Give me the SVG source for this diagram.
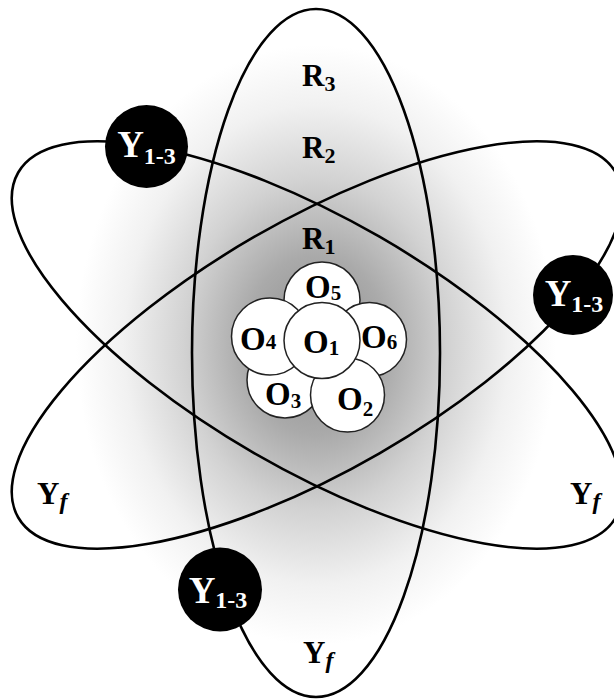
<svg xmlns="http://www.w3.org/2000/svg" width="614" height="699" viewBox="0 0 614 699">
<defs>
<radialGradient id="glow" gradientUnits="userSpaceOnUse" cx="316" cy="345" r="300" gradientTransform="translate(316 345) scale(0.8 1) translate(-316 -345)">
<stop offset="0" stop-color="#8c8c8c"/>
<stop offset="0.3" stop-color="#aaaaaa"/>
<stop offset="0.55" stop-color="#d2d2d2"/>
<stop offset="0.8" stop-color="#f1f1f1"/>
<stop offset="1" stop-color="#ffffff"/>
</radialGradient>
<style>
.orbit{fill:none;stroke:#000;stroke-width:2.6}
.elec{fill:#000}
.nuc{fill:#fff;stroke:#222;stroke-width:1.5}
text{font-family:"Liberation Serif","Times New Roman",serif;font-weight:bold;fill:#000}
.yw{fill:#fff;font-size:37px}
.ys{font-size:24px}
.r{font-size:31px}
.rs{font-size:22px}
.o{font-size:33px}
.os{font-size:21px}
.yf{font-size:31px}
.f{font-size:24px;font-style:italic}
</style>
</defs>
<rect width="614" height="699" fill="url(#glow)"/>
<g id="connectors">
<ellipse class="orbit" cx="316" cy="353" rx="124" ry="344"/>
<ellipse class="orbit" cx="0" cy="0" rx="345" ry="125" transform="translate(317 345) rotate(30)"/>
<ellipse class="orbit" cx="0" cy="0" rx="345" ry="125" transform="translate(317 345) rotate(-30)"/>
</g>
<g id="labels-orbit">
<text class="r" x="302" y="86">R<tspan class="rs" dy="5">3</tspan></text>
<text class="r" x="302" y="158">R<tspan class="rs" dy="5">2</tspan></text>
<text class="r" x="302" y="249">R<tspan class="rs" dy="5">1</tspan></text>
<text class="yf" x="37" y="504">Y<tspan class="f" dy="5">f</tspan></text>
<text class="yf" x="570" y="504">Y<tspan class="f" dy="5">f</tspan></text>
<text class="yf" x="303" y="663">Y<tspan class="f" dy="5">f</tspan></text>
</g>
<g id="electron-1">
<circle class="elec" cx="146.5" cy="146.5" r="41.5"/>
<text class="yw" x="146.5" y="157" text-anchor="middle">Y<tspan class="ys" dy="7">1-3</tspan></text>
</g>
<g id="electron-2">
<circle class="elec" cx="573" cy="295" r="40"/>
<text class="yw" x="574" y="306" text-anchor="middle">Y<tspan class="ys" dy="6">1-3</tspan></text>
</g>
<g id="electron-3">
<circle class="elec" cx="220" cy="589.5" r="42"/>
<text class="yw" x="218" y="603" text-anchor="middle">Y<tspan class="ys" dy="5">1-3</tspan></text>
</g>
<g id="O5">
<circle class="nuc" cx="322" cy="300" r="38"/>
<text class="o" x="305" y="298">O<tspan class="os" dy="2">5</tspan></text>
</g>
<g id="O6">
<circle class="nuc" cx="369.5" cy="339.5" r="37"/>
<text class="o" x="361" y="348">O<tspan class="os" dy="1">6</tspan></text>
</g>
<g id="O3">
<circle class="nuc" cx="285" cy="380" r="38"/>
<text class="o" x="265" y="405">O<tspan class="os" dy="3">3</tspan></text>
</g>
<g id="O2">
<circle class="nuc" cx="347.5" cy="395" r="37"/>
<text class="o" x="337" y="410">O<tspan class="os" dy="6">2</tspan></text>
</g>
<g id="O4">
<circle class="nuc" cx="270" cy="336.5" r="38.5"/>
<text class="o" x="240" y="350">O<tspan class="os" dy="-1">4</tspan></text>
</g>
<g id="O1">
<circle class="nuc" cx="322" cy="340.5" r="38"/>
<text class="o" x="303" y="353">O<tspan class="os" dy="2">1</tspan></text>
</g>
</svg>
